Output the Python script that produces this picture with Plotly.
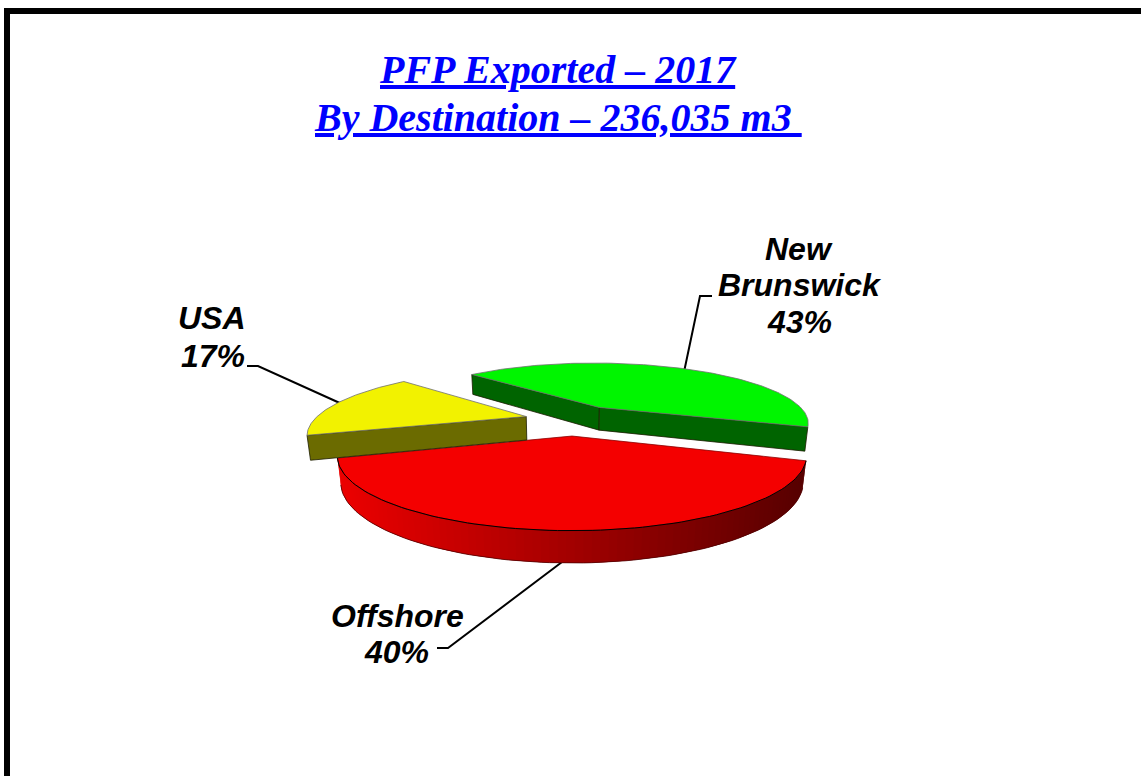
import math
import plotly.graph_objects as go

# ---- data ----
categories = ["New Brunswick", "USA", "Offshore"]
shares = [43, 17, 40]
explode = [0.25, 0.23, 0.25]
top_colors = ["#00F500", "#F2F200", "#F40000"]
wall_colors = ["#006400", "#6B6B00", None]
title_lines = ["<u>PFP Exported – 2017</u>", "<u>By Destination – 236,035 m3\u00a0</u>"]
label_lines = {
    "New Brunswick": ["New", "Brunswick", "43%"],
    "USA": ["USA", "17%"],
    "Offshore": ["Offshore", "40%"],
}

# ---- pie geometry (projection of a tilted, exploded pie) ----
OX, OY = 573, 419.8
A, C, K = 212.0, 61.0, 0.25
WALL, SHRINK = 24.0, 0.0125
START_DEG = -19.0


def project(X, Y, z=0.0):
    d = 1 + K * Y + SHRINK * z
    return OX + A * X / d, OY + (-C * Y + WALL * z) / d


def deg_range(a0, a1, n):
    return [a0 + (a1 - a0) * i / n for i in range(n + 1)]


fig = go.Figure()


def poly(pts, fill, line="#404040", width=0.8):
    xs, ys = zip(*pts)
    fig.add_trace(go.Scatter(x=list(xs) + [xs[0]], y=list(ys) + [ys[0]], mode="lines",
                             fill="toself", fillcolor=fill,
                             line=dict(color=line, width=width),
                             hoverinfo="skip", showlegend=False))


def curve(pts, color, width):
    xs, ys = zip(*pts)
    fig.add_trace(go.Scatter(x=list(xs), y=list(ys), mode="lines",
                             line=dict(color=color, width=width),
                             hoverinfo="skip", showlegend=False))


# angular extents from the values
total = sum(shares)
slices = {}
a = START_DEG
for name, share, e, tc, wc in zip(categories, shares, explode, top_colors, wall_colors):
    b = a + 360.0 * share / total
    mid = math.radians((a + b) / 2)
    cx, cy = e * math.cos(mid), e * math.sin(mid)
    slices[name] = dict(a=a, b=b, cx=cx, cy=cy, top=tc, wall=wc)
    a = b


def rim(s, deg):
    t = math.radians(deg)
    return s["cx"] + math.cos(t), s["cy"] + math.sin(t)


def radial_wall(s, deg):
    p = rim(s, deg)
    poly([project(s["cx"], s["cy"]), project(*p), project(*p, 1), project(s["cx"], s["cy"], 1)],
         s["wall"], "#1c1c00", 0.8)


def top_face(s, line="#707070"):
    pts = [project(s["cx"], s["cy"])] + [project(*rim(s, d)) for d in deg_range(s["a"], s["b"], 120)]
    poly(pts, s["top"], line, 0.8)


# back slice
g = slices["New Brunswick"]
radial_wall(g, g["b"])
radial_wall(g, g["a"])
top_face(g)

# front slice: outer wall with a left-to-right shading.
# Each band runs under the next one, painted left to right, so no seams show.
r = slices["Offshore"]
n_bands = 90
edges = deg_range(r["a"], r["b"], n_bands)
for i in range(n_bands):
    span = edges[i:min(i + 3, n_bands + 1)]
    upper = [project(*rim(r, d)) for d in span]
    lower = [project(*rim(r, d), 1) for d in reversed(span)]
    xm = upper[0][0]
    f = min(1.0, max(0.0, (xm - 340) / 460))
    col = "rgb(%d,0,0)" % round(235 - f * (235 - 88))
    poly(upper + lower, col, col, 0)
curve([project(*rim(r, d), 1) for d in edges], "#500000", 0.8)
top_face(r, "#8a0000")
curve([project(*rim(r, d)) for d in edges], "#000000", 1.0)

# left slice sits over the front one
y_ = slices["USA"]
radial_wall(y_, y_["b"])
top_face(y_)

# ---- text ----
SANS = "Liberation Sans"
SERIF = "Liberation Serif"


def text(x, y, s, font):
    return dict(x=x, y=y, xref="x", yref="y", text=s, showarrow=False,
                xanchor="center", yanchor="middle", font=font)


annotations = []
title_font = dict(family=SERIF, size=40, color="#0000FF", weight="bold", style="italic")
annotations.append(text(558, 69, "<b><i>%s</i></b>" % title_lines[0], title_font))
annotations.append(text(558, 117, "<b><i>%s</i></b>" % title_lines[1], title_font))

label_font = dict(family=SANS, size=32, color="#000000", weight="bold", style="italic")
label_pos = {
    "New Brunswick": [(799, 249), (800, 285), (799, 322)],
    "USA": [(212, 318), (213, 356)],
    "Offshore": [(397, 616), (396, 652)],
}
for name in categories:
    for line, (x, y) in zip(label_lines[name], label_pos[name]):
        annotations.append(text(x, y, "<b><i>%s</i></b>" % line, label_font))

# ---- leader lines and frame ----
shapes = [
    dict(type="path", path="M712,296 L700,296 L684,372", layer="below",
         line=dict(color="#000", width=2)),
    dict(type="path", path="M247,366 L258,366 L342,404", layer="below",
         line=dict(color="#000", width=2)),
    dict(type="path", path="M437,648 L448,648 L562,562", layer="below",
         line=dict(color="#000", width=2)),
    dict(type="rect", x0=4, x1=10, y0=8, y1=776, fillcolor="#000", line=dict(width=0)),
    dict(type="rect", x0=4, x1=1141, y0=8, y1=14, fillcolor="#000", line=dict(width=0)),
]

fig.update_layout(
    width=1141, height=776, margin=dict(l=0, r=0, t=0, b=0),
    paper_bgcolor="#FFFFFF", plot_bgcolor="#FFFFFF", showlegend=False,
    xaxis=dict(range=[0, 1141], visible=False, fixedrange=True),
    yaxis=dict(range=[776, 0], visible=False, fixedrange=True),
    annotations=annotations, shapes=shapes,
)

fig.write_html("out.html", config=dict(displayModeBar=False),
               post_script="document.body.style.margin='0';document.body.style.overflow='hidden';")
